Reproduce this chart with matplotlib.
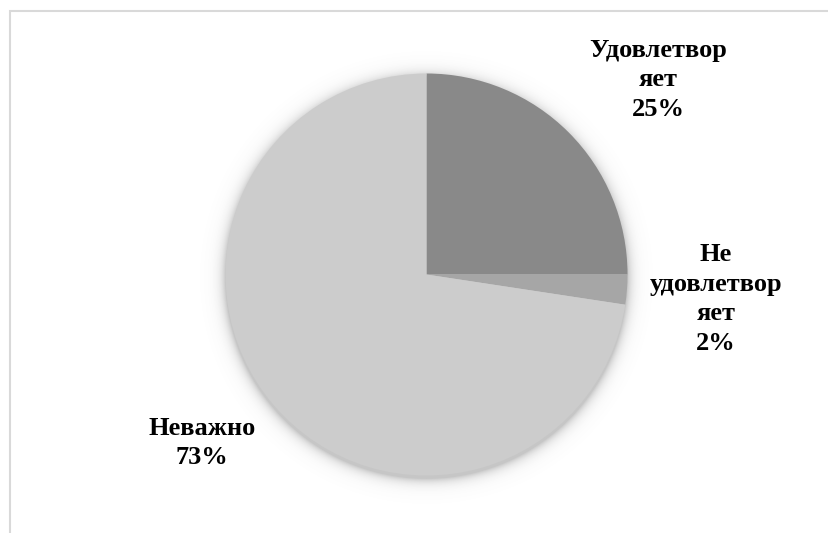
import numpy as np
import matplotlib.pyplot as plt
from matplotlib.patches import Rectangle

# slice data (clockwise from 12 o'clock)
labels = ['Удовлетвор\nяет', 'Не\nудовлетвор\nяет', 'Неважно']
shares = [25.0, 2.4, 72.6]
pct_text = ['25%', '2%', '73%']
colors = ['#898989', '#a6a6a6', '#cccccc']

W, H = 829, 533
fig = plt.figure(figsize=(W / 100, H / 100), dpi=100)
ax = fig.add_axes([0, 0, 1, 1])
ax.set_xlim(0, W)
ax.set_ylim(0, H)
ax.set_aspect('equal')
ax.axis('off')

# chart frame (only top/left edges visible in the crop)
ax.add_patch(Rectangle((10.5, -20), W + 40, H - 11 + 20, fill=False,
                       edgecolor='#d9d9d9', linewidth=1.5))

cx, cy, r = 426.5, H - 274.5, 201

# soft shadow behind the pie
gx, gy = np.meshgrid(np.arange(0, W), np.arange(0, H))
d = np.hypot(gx + 0.5 - cx, gy + 0.5 - (cy - 3)) - r
alpha = np.where(d > 0, 0.4 * np.exp(-d / 5.5), 0.4)
img = np.zeros((H, W, 4))
img[..., :3] = 0.45
img[..., 3] = alpha
ax.imshow(img, extent=(0, W, 0, H), origin='lower', zorder=1, interpolation='bilinear')

wedges, _ = ax.pie(shares, colors=colors, startangle=90, counterclock=False,
                   center=(cx, cy), radius=r, frame=True,
                   wedgeprops=dict(linewidth=0, zorder=2))
ax.set_xlim(0, W)
ax.set_ylim(0, H)
ax.axis('off')

# label positions in pixel coords (x, y from top)
label_pos = [(658, 80), (716, 299), (202, 443)]
for lab, pct, (lx, ly) in zip(labels, pct_text, label_pos):
    ax.text(lx, H - ly, lab + '\n' + pct, ha='center', va='center',
            family='Liberation Serif', fontweight='bold', fontsize=19,
            linespacing=1.38, color='black', zorder=3)

fig.savefig('out.png', dpi=100)
